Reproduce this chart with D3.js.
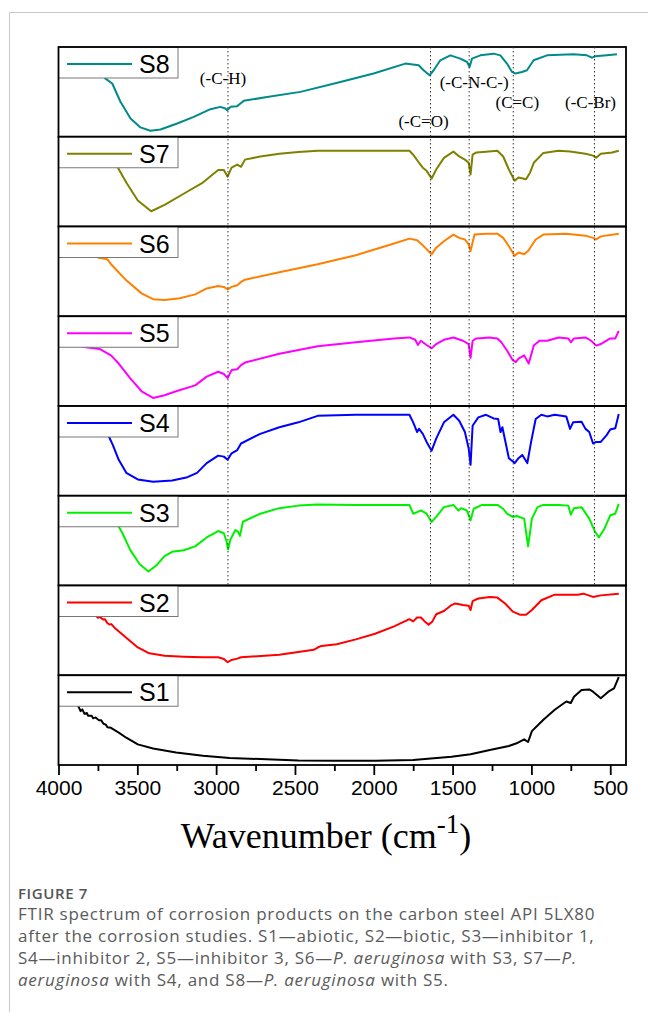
<!DOCTYPE html>
<html>
<head>
<meta charset="utf-8">
<script src="https://cdn.jsdelivr.net/npm/d3@7"></script>
<style>
  body { margin: 0; background: #fff; }
</style>
</head>
<body>
<svg id="chart"></svg>
<script>
// Spectra: [wavenumber (cm-1), transmittance in % of its panel height]
const S8 = [[3740,75],[3702,64.8],[3659,59.3],[3607,39],[3543,20.4],[3480,10.4],[3417,6.7],[3353,8.1],[3247,14.8],[3142,22.2],[3036,30.7],[2973,33.3],[2941,31.5],[2930,29.6],[2909,33.3],[2867,34.1],[2846,37],[2825,40],[2677,44.4],[2465,50],[2212,61],[2001,70.4],[1800,81.5],[1715,79.6],[1684,74.1],[1646,68.5],[1620,74.1],[1578,85.2],[1514,90.7],[1451,87],[1408,83.3],[1392,77.8],[1377,87],[1324,90.7],[1240,92.6],[1197,90.7],[1155,81.5],[1123,72.2],[1102,70.4],[1060,72.2],[1028,74.1],[986,85.2],[901,90.7],[733,91.9],[648,90.7],[616,88.1],[595,89.6],[521,90.7],[457,91.9]]
const S7 = [[3680,78],[3623,65.5],[3570,49],[3497,29],[3412,17],[3327,24],[3206,36.5],[3084,49],[2987,63],[2951,63],[2927,55.5],[2902,65.5],[2866,69],[2842,66.5],[2817,74.5],[2720,78],[2599,81],[2478,83],[2356,84.4],[2114,84.4],[1871,84.4],[1774,84.4],[1750,80],[1713,71],[1689,65.5],[1665,62],[1633,53.5],[1604,63.5],[1555,76.5],[1495,83.5],[1458,78],[1422,74.5],[1398,71],[1386,58],[1373,80],[1349,82.5],[1288,83.3],[1216,84.4],[1179,78],[1143,63.5],[1106,51],[1082,54.5],[1034,52.7],[1009,60],[985,71],[924,82],[827,84.4],[755,83.5],[657,81],[609,79],[589,76.5],[560,81],[488,82.5],[446,84.4]]
const S6 = [[3780,72],[3752,65.5],[3691,63.6],[3667,58],[3570,40],[3473,25.5],[3400,19],[3327,18.2],[3230,20],[3133,24.4],[3060,31],[2987,33.8],[2951,32.7],[2927,29.8],[2902,32.7],[2866,34.5],[2842,38.2],[2817,40.7],[2599,49],[2356,58],[2114,68],[1871,81],[1774,86.5],[1725,84.7],[1689,79],[1633,69],[1604,76.4],[1555,83.6],[1495,91],[1458,87.3],[1422,85.5],[1398,80],[1386,72.7],[1361,91],[1288,92],[1216,92],[1179,87.3],[1143,78],[1106,67.3],[1082,71],[1046,69],[1021,72.7],[973,85.5],[924,91],[779,92],[657,89.8],[609,87.3],[589,85.5],[560,89],[446,92]]
const S5 = [[3900,68],[3825,65.5],[3740,63.6],[3667,56.4],[3618,47.3],[3546,31],[3473,16.4],[3400,9],[3327,12],[3254,16.4],[3133,23],[3060,32.7],[2987,38.2],[2951,35.6],[2927,31],[2902,40],[2866,41],[2842,45.5],[2817,48.4],[2599,58.2],[2356,66.5],[2114,71],[1871,75.3],[1774,76.4],[1737,73.8],[1720,68],[1701,72.7],[1665,68],[1633,64.4],[1604,69],[1555,73.8],[1495,76.4],[1434,72.7],[1398,69],[1386,53.5],[1373,72.7],[1349,75.3],[1264,76.4],[1216,75.3],[1191,71],[1155,61.8],[1118,51],[1099,49],[1082,52.7],[1046,56.4],[1017,47.3],[985,67.3],[949,72.7],[900,72.7],[827,76.4],[766,75.3],[750,71],[730,75.3],[657,76.4],[621,72.7],[589,67.3],[560,69],[500,75.3],[468,75.3],[446,83.6]]
const S4 = [[3720,78],[3679,65.5],[3655,56.4],[3618,40],[3570,25.5],[3497,18.2],[3400,15.6],[3279,17.1],[3182,20.7],[3121,25.5],[3060,36.4],[2987,44.7],[2951,43.6],[2927,40],[2902,47.3],[2866,50.9],[2842,58.2],[2720,69],[2599,76.4],[2478,81.8],[2356,89],[2114,90.2],[1871,90.2],[1774,90.2],[1750,81.8],[1725,71],[1713,74.5],[1689,69],[1665,60],[1633,50.2],[1604,63.6],[1555,81.8],[1495,90.2],[1458,83.6],[1422,71],[1398,52.7],[1386,34.5],[1373,78],[1337,87.3],[1288,90.2],[1240,86.2],[1211,85.5],[1196,71],[1184,76.4],[1167,61.8],[1143,41.8],[1106,36.4],[1082,41.8],[1058,45.5],[1026,36.4],[1002,60],[973,85.5],[937,90.2],[900,88.4],[852,90.2],[779,88.4],[755,74.5],[735,82],[682,82.5],[657,74.5],[633,71],[609,58.2],[589,60],[560,60],[524,67.3],[500,73.8],[468,75.3],[446,91]]
const S3 = [[3660,78],[3618,65.5],[3594,58.2],[3546,40],[3485,23.6],[3429,15.6],[3376,22.9],[3327,32.7],[3279,37.5],[3206,39.3],[3133,43.6],[3060,53.5],[2987,60.7],[2951,58.2],[2934,49],[2924,40],[2910,51],[2878,61.8],[2861,60],[2849,55.3],[2830,71],[2720,80],[2599,86.2],[2478,89],[2356,90.2],[2114,89.8],[1871,89.8],[1774,89.8],[1750,80],[1725,81.8],[1701,83.6],[1665,80],[1633,70.9],[1604,76.4],[1555,87.3],[1495,89.8],[1463,83.6],[1446,86.2],[1410,83.6],[1386,72.7],[1366,85.5],[1313,89.8],[1216,89.8],[1179,85.5],[1155,80],[1118,76.4],[1094,77.5],[1046,74.5],[1021,43.6],[997,74.5],[961,87.3],[924,89.8],[827,89.8],[766,89],[750,78.9],[730,86.2],[682,87.3],[633,74.5],[597,60],[572,53.5],[536,63.6],[500,78.2],[468,80],[446,91]]
const S2 = [[3800,72],[3764,66.5],[3750,64],[3740,65],[3728,63.6],[3715,62],[3705,62.5],[3691,58.2],[3675,56.5],[3665,57],[3643,52.7],[3570,41.8],[3497,31],[3424,24.4],[3327,21.8],[3206,20.7],[3084,20],[2987,20],[2951,18.2],[2927,14.5],[2902,17.1],[2866,18.5],[2842,20],[2599,22.9],[2381,28.4],[2356,30.9],[2332,32.7],[2235,34.5],[2114,40],[1992,46.2],[1871,54.5],[1774,62.5],[1750,60],[1725,64.4],[1701,64.4],[1677,60],[1652,56.4],[1628,60],[1604,68],[1555,71.6],[1507,78.2],[1483,80],[1434,78.2],[1398,77.5],[1386,72.7],[1373,82.5],[1337,85.5],[1264,87.3],[1216,86.5],[1167,80],[1118,70.9],[1070,67.3],[1034,67.3],[997,72.7],[937,83.6],[852,89.8],[755,89.8],[706,89.8],[670,90.9],[609,87.3],[560,89],[446,90.9]]
const S1 = [[3900,72],[3873,65],[3860,60],[3849,62],[3835,57],[3820,58],[3813,55],[3790,55],[3780,52],[3764,53],[3745,50],[3730,50],[3715,46],[3700,45],[3690,42],[3667,41.4],[3618,36],[3570,30.4],[3497,23],[3400,18.3],[3254,14],[3084,10.3],[2914,7.7],[2720,6.6],[2478,5.1],[2235,4.8],[1992,4.8],[1750,5.5],[1507,9.2],[1386,12],[1264,16.8],[1143,21.2],[1094,24.2],[1046,28.6],[1021,25.6],[997,37.7],[924,50.5],[852,61.5],[779,70.7],[750,69],[730,76],[682,83.5],[633,84.2],[609,81.7],[560,74.4],[512,81.7],[476,85.3],[446,98]]

const sampleNames = ["S8", "S7", "S6", "S5", "S4", "S3", "S2", "S1"]
const sampleColors = ["#008b8b", "#808000", "#ff8000", "#ff00ff", "#0000ff", "#00f000", "#ff0000", "#000000"]
const spectra = [S8, S7, S6, S5, S4, S3, S2, S1]

// assigned bands (dotted lines)
const bandWn = [2925, 1640, 1395, 1115, 600]
const bandLabels = ["(-C-H)", "(-C=O)", "(-C-N-C-)", "(C=C)", "(-C-Br)"]

const xTicks = [4000, 3500, 3000, 2500, 2000, 1500, 1000, 500]
const xMinorTicks = [3750, 3250, 2750, 2250, 1750, 1250, 750]

const W = 648, H = 1017
const plotLeft = 58.5, plotRight = 626, plotTop = 47, panelH = 89.75
const plotBottom = plotTop + panelH * sampleNames.length

const svg = d3.select("#chart").attr("width", W).attr("height", H)

// light frame of the figure box
svg.append("path")
  .attr("d", "M9.5,1012V12.5H648")
  .attr("fill", "none")
  .attr("stroke", "#c8c8c8")

const x = d3.scaleLinear().domain([4000, 400]).range([plotLeft, plotRight])

// label anchors: offsets from the band line, baseline y
const labelPos = [
  {dx: -5, y: 84}, {dx: -7, y: 127}, {dx: 5, y: 88}, {dx: 4, y: 108}, {dx: -4, y: 108}
]

sampleNames.forEach(function(name, i) {
  let y0 = plotTop + i * panelH
  let y = d3.scaleLinear().domain([0, 100]).range([y0 + panelH, y0])
  let g = svg.append("g").attr("class", "panel")

  g.append("path")
    .datum(spectra[i])
    .attr("fill", "none")
    .attr("stroke", sampleColors[i])
    .attr("stroke-width", 2)
    .attr("stroke-linejoin", "round")
    .attr("d", d3.line().x(d => x(d[0])).y(d => y(d[1])))

  // legend box
  g.append("rect")
    .attr("x", plotLeft).attr("y", y0)
    .attr("width", 119.5).attr("height", 31)
    .attr("fill", "#fff")
    .attr("stroke", "#777").attr("stroke-width", 1)
  g.append("line")
    .attr("x1", 67).attr("x2", 132)
    .attr("y1", y0 + 17).attr("y2", y0 + 17)
    .attr("stroke", sampleColors[i]).attr("stroke-width", 2)
  g.append("text")
    .attr("x", 139).attr("y", y0 + 26)
    .attr("font-family", "Liberation Sans, Arial, sans-serif")
    .attr("font-size", 25)
    .text(name)

  g.append("rect")
    .attr("x", plotLeft).attr("y", y0)
    .attr("width", plotRight - plotLeft).attr("height", panelH)
    .attr("fill", "none")
    .attr("stroke", "#000").attr("stroke-width", 1.8)
})

// dotted band markers through S8..S3
const bandBottom = plotTop + panelH * 6
svg.selectAll("line.band")
  .data(bandWn)
  .enter().append("line")
  .attr("class", "band")
  .attr("x1", d => x(d)).attr("x2", d => x(d))
  .attr("y1", plotTop).attr("y2", bandBottom)
  .attr("stroke", "#333")
  .attr("stroke-width", 1)
  .attr("stroke-dasharray", "1.5,2.5")

svg.selectAll("text.band")
  .data(bandLabels)
  .enter().append("text")
  .attr("class", "band")
  .attr("x", (d, i) => x(bandWn[i]) + labelPos[i].dx)
  .attr("y", (d, i) => labelPos[i].y)
  .attr("text-anchor", "middle")
  .attr("font-family", "Liberation Serif, Times New Roman, serif")
  .attr("font-size", 17)
  .text(d => d)

// x axis
let axis = svg.append("g")
  .attr("transform", "translate(0," + plotBottom + ")")
  .call(d3.axisBottom(x).tickValues(xTicks).tickSize(10).tickFormat(d3.format("d")))
axis.select(".domain").remove()
axis.selectAll(".tick line").attr("stroke-width", 1.8)
axis.selectAll("text")
  .attr("y", 15)
  .attr("font-family", "Liberation Sans, Arial, sans-serif")
  .attr("font-size", 21)
  .attr("fill", "#000")

let minor = svg.append("g")
  .attr("transform", "translate(0," + plotBottom + ")")
  .call(d3.axisBottom(x).tickValues(xMinorTicks).tickSize(6).tickFormat(""))
minor.select(".domain").remove()
minor.selectAll(".tick line").attr("stroke-width", 1.8)

let xLabel = svg.append("text")
  .attr("x", 326).attr("y", 848)
  .attr("text-anchor", "middle")
  .attr("font-family", "Liberation Serif, Times New Roman, serif")
  .attr("font-size", 36)
xLabel.append("tspan").text("Wavenumber (cm")
xLabel.append("tspan").attr("dy", -15).attr("font-size", 27).text("-1")
xLabel.append("tspan").attr("dy", 15).text(")")

// caption
const captionTitle = "FIGURE 7"
const captionLines = [
  [["FTIR spectrum of corrosion products on the carbon steel API 5LX80", false]],
  [["after the corrosion studies. S1\u2014abiotic, S2\u2014biotic, S3\u2014inhibitor 1,", false]],
  [["S4\u2014inhibitor 2, S5\u2014inhibitor 3, S6\u2014", false], ["P. aeruginosa", true], [" with S3, S7\u2014", false], ["P.", true]],
  [["aeruginosa", true], [" with S4, and S8\u2014", false], ["P. aeruginosa", true], [" with S5.", false]]
]

svg.append("text")
  .attr("x", 18).attr("y", 899)
  .attr("font-family", "Open Sans, sans-serif")
  .attr("font-size", 15)
  .attr("font-weight", 600)
  .attr("letter-spacing", 0.6)
  .attr("fill", "#555")
  .text(captionTitle)

captionLines.forEach(function(parts, i) {
  let t = svg.append("text")
    .attr("x", 18).attr("y", 920 + i * 22)
    .attr("font-family", "Open Sans, sans-serif")
    .attr("font-size", 17)
    .attr("letter-spacing", 0.75)
    .attr("fill", "#5a5a5a")
  parts.forEach(function(p) {
    t.append("tspan").attr("font-style", p[1] ? "italic" : "normal").text(p[0])
  })
})
</script>
</body>
</html>
